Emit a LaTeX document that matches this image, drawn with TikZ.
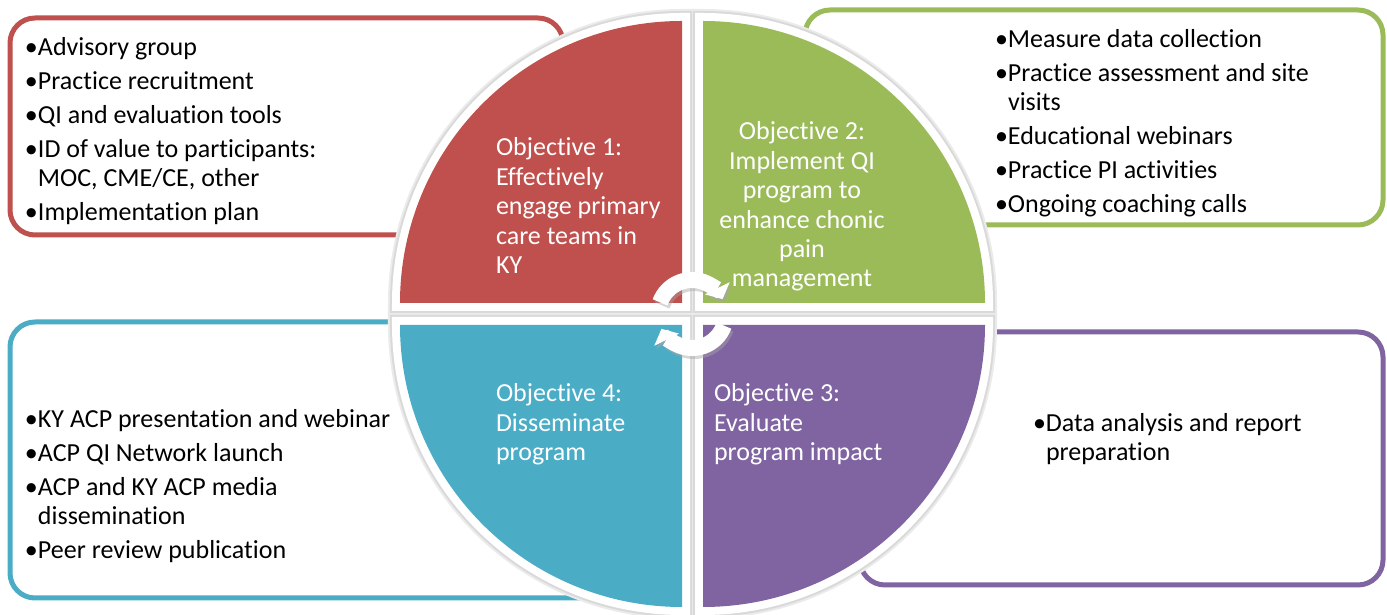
\documentclass[tikz,border=0pt]{standalone}
\usepackage{fontspec}
\setmainfont[Ligatures=NoCommon,Contextuals=NoAlternate]{Carlito}
\usetikzlibrary{arrows.meta}

\definecolor{objred}{HTML}{C0504D}
\definecolor{objgreen}{HTML}{9BBB59}
\definecolor{objblue}{HTML}{4BACC6}
\definecolor{objpurple}{HTML}{8064A2}

% bulleted item with hanging indent for wrapped lines
\newcommand\bitem[1]{\par\hangindent=6.5pt\hangafter=1\noindent\makebox[6.5pt][l]{\textbullet}#1}
\newcommand\listbox[2]{\parbox[t]{#1}{\fontsize{13pt}{14.5pt}\selectfont\setlength\parskip{2.5pt}#2}}
\newcommand\objleft[1]{\parbox[t]{110pt}{\raggedright\fontsize{13pt}{14.7pt}\selectfont #1}}
\newcommand\objcenter[1]{\parbox[t]{120pt}{\centering\fontsize{13pt}{14.7pt}\selectfont #1}}

% the four quarter sectors of the wheel
\newcommand\sectorRed{(682,312) -- (400,312) arc[start angle=180,end angle=90,radius=282] -- cycle}
\newcommand\sectorGreen{(703,312) -- (703,594) arc[start angle=90,end angle=0,radius=282] -- cycle}
\newcommand\sectorPurple{(703,290) -- (985,290) arc[start angle=0,end angle=-90,radius=282] -- cycle}
\newcommand\sectorBlue{(682,290) -- (682,8) arc[start angle=-90,end angle=-180,radius=282] -- cycle}

\begin{document}
\begin{tikzpicture}[x=0.5pt,y=0.5pt,
  listframe/.style={fill=white, line width=2.5pt, rounded corners=12.5pt},
  listtext/.style={inner sep=0pt, outer sep=0pt, anchor=base west, text=black},
  objtext/.style={inner sep=0pt, outer sep=0pt, text=white},
  halo outer/.style={draw=black!8, line width=12pt, line join=miter},
  halo inner/.style={draw=black!15, line width=10pt, line join=miter},
  rim/.style={draw=white, line width=8pt, line join=miter},
  cyclearrow/.style={draw=white, line width=8pt, -{Triangle[length=6pt,width=13.5pt]}},
  cycleshadow/.style={draw=black!35, opacity=0.45, line width=8pt, -{Triangle[length=6pt,width=13.5pt]}}
]
\useasboundingbox (0,0) rectangle (1387,615);

% activity frames behind the wheel
\draw[listframe, draw=objred]    (10,380) rectangle (563,597);
\draw[listframe, draw=objgreen]  (805,390) rectangle (1383,605);
\draw[listframe, draw=objblue]   (10,17) rectangle (640,293);
\draw[listframe, draw=objpurple] (860,30) rectangle (1383,283);

% activity lists
\node[listtext] (tasks1) at (25,559) {\listbox{280pt}{%
  \bitem{Advisory group}
  \bitem{Practice recruitment}
  \bitem{QI and evaluation tools}
  \bitem{ID of value to participants:\\MOC, CME/CE, other}
  \bitem{Implementation plan}}};
\node[listtext] (tasks2) at (995,567) {\listbox{190pt}{%
  \bitem{Measure data collection}
  \bitem{Practice assessment and site\\visits}
  \bitem{Educational webinars}
  \bitem{Practice PI activities}
  \bitem{Ongoing coaching calls}}};
\node[listtext] (tasks4) at (25,187) {\listbox{200pt}{%
  \bitem{KY ACP presentation and webinar}
  \bitem{ACP QI Network launch}
  \bitem{ACP and KY ACP media\\dissemination}
  \bitem{Peer review publication}}};
\node[listtext] (tasks3) at (1033,183) {\listbox{180pt}{%
  \bitem{Data analysis and report\\preparation}}};

% wheel: soft halo, white rim, coloured quarters
\foreach \s in {\sectorRed,\sectorGreen,\sectorPurple,\sectorBlue}{\path[halo outer] \s;}
\foreach \s in {\sectorRed,\sectorGreen,\sectorPurple,\sectorBlue}{\path[halo inner] \s;}
\foreach \s in {\sectorRed,\sectorGreen,\sectorPurple,\sectorBlue}{\path[rim] \s;}
\fill[objred] \sectorRed;
\fill[objgreen] \sectorGreen;
\fill[objpurple] \sectorPurple;
\fill[objblue] \sectorBlue;

% objective labels
\node[objtext, anchor=base west] (obj1) at (496,459) {\objleft{Objective 1:\\Effectively\\engage primary\\care teams in\\KY}};
\node[objtext, anchor=base] (obj2) at (802,475) {\objcenter{Objective 2:\\Implement QI\\program to\\enhance chonic\\pain\\management}};
\node[objtext, anchor=base west] (obj4) at (496,213) {\objleft{Objective 4:\\Disseminate\\program}};
\node[objtext, anchor=base west] (obj3) at (714,213) {\objleft{Objective 3:\\Evaluate\\program impact}};

% cycle arrows at the hub
\coordinate (hub) at (692,301);
\coordinate (hubshade) at (694,298);
\draw[cycleshadow] ([shift={(160:34)}]hubshade) arc[start angle=160,end angle=26,radius=34];
\draw[cycleshadow] ([shift={(-20:34)}]hubshade) arc[start angle=-20,end angle=-154,radius=34];
\draw[cyclearrow] ([shift={(160:34)}]hub) arc[start angle=160,end angle=26,radius=34];
\draw[cyclearrow] ([shift={(-20:34)}]hub) arc[start angle=-20,end angle=-154,radius=34];
\end{tikzpicture}
\end{document}
